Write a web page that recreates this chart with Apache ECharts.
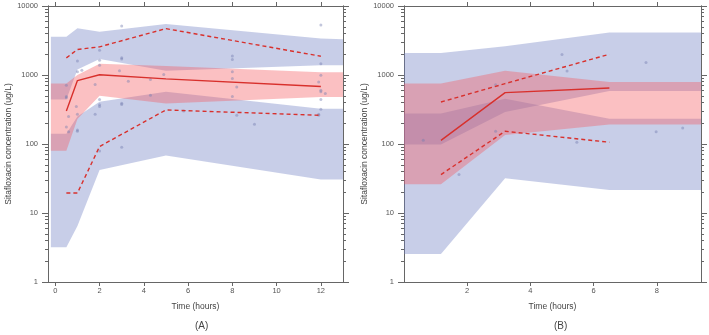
<!DOCTYPE html>
<html>
<head>
<meta charset="utf-8">
<script src="https://cdn.jsdelivr.net/npm/echarts@6/dist/echarts.min.js"></script>
<style>
html, body { margin: 0; padding: 0; background: #fff; }
#main { width: 709px; height: 335px; }
</style>
</head>
<body>
<div id="main"></div>
<script>
// ---------- panel (A) ----------
var bandTimeA = [-0.2, 0.5, 1, 2, 5, 12, 13];
var hiBandUpperA = [3575, 3575, 4740, 4230, 5470, 3390, 3300];   // CI of 95th pct
var loBandUpperA = [440, 440, 1200, 1700, 1150, 1390, 1390];
var hiBandLowerA = [141, 141, 250, 410, 570, 325, 325];          // CI of 5th pct
var loBandLowerA = [3.2, 3.2, 6.5, 42, 68, 30.5, 30.5];
var hiBandMedA = [752, 752, 1000, 1450, 1350, 1100, 1100];       // CI of median
var loBandMedA = [80, 80, 230, 500, 385, 478, 478];

var lineTimeA = [0.5, 1, 2, 5, 12];
var medianA = [300, 830, 1010, 880, 680];
var p95A = [1770, 2340, 2560, 4700, 1870];
var p5A = [19.5, 19.5, 92, 312, 260];

var obsA = [
  [3.0, 5120], [1.0, 1600], [2, 2290], [2, 1640], [2, 1390], [3, 1780], [3, 1700],
  [1.0, 1110], [1.2, 1170], [2.9, 1150], [4.9, 1020], [3.3, 810], [4.3, 860],
  [1.8, 730], [0.5, 710], [0.5, 490], [0.5, 470], [2, 440], [2, 370], [2, 350],
  [3, 390], [3, 375], [4.3, 510], [1.8, 270], [0.95, 350], [0.6, 250], [1.0, 270],
  [0.5, 176], [1.0, 160], [1.0, 153], [3, 90], [2, 79], [0.6, 150],
  [12, 5300], [8, 1880], [8, 1680], [12, 1460], [8, 1110], [8, 890], [8.2, 670],
  [8, 490], [12, 990], [11.9, 790], [12, 600], [12, 570], [12.2, 540], [12, 440],
  [12, 320], [11.9, 270], [11.9, 260], [8.2, 260], [9, 193], [5.8, 300]
];

// ---------- panel (B) ----------
var bandTimeB = [0, 1.17, 3.2, 6.5, 9.4];
var hiBandUpperB = [2090, 2090, 2600, 4140, 4140];
var loBandUpperB = [98, 98, 290, 587, 587];
var hiBandLowerB = [276, 276, 454, 232, 232];
var loBandLowerB = [2.55, 2.55, 32, 21.5, 21.5];
var hiBandMedB = [750, 750, 1150, 794, 794];
var loBandMedB = [26, 26, 135, 192, 192];

var lineTimeB = [1.17, 3.2, 6.5];
var medianB = [113, 556, 649];
var p95B = [406, 750, 2000];
var p5B = [36, 153, 106];

var obsB = [
  [0.61, 113], [2.9, 153], [1.74, 36], [2.9, 725], [5.0, 1980], [5.16, 1140],
  [7.66, 1520], [5.47, 106], [7.98, 150], [8.82, 170]
];

// ticks
var xTicksA = [0, 2, 4, 6, 8, 10, 12];
var xTicksB = [2, 4, 6, 8];
var yMajor = [1, 10, 100, 1000, 10000];
var yMinor = [2, 3, 4, 5, 6, 7, 8, 9, 20, 30, 40, 50, 60, 70, 80, 90,
  200, 300, 400, 500, 600, 700, 800, 900, 2000, 3000, 4000, 5000, 6000, 7000, 8000, 9000];

var blue = 'rgba(110,125,195,0.38)';
var pink = 'rgba(245,90,95,0.38)';
var red = '#d8302c';
var axisCol = '#666';
var font = 'Liberation Sans, Arial, sans-serif';

function zip(t, v) {
  return t.map(function (x, i) { return [x, v[i]]; });
}

function bandSeries(xi, yi, times, lo, hi, color) {
  return {
    type: 'custom',
    xAxisIndex: xi,
    yAxisIndex: yi,
    silent: true,
    data: times.map(function (t, i) { return [t, lo[i], hi[i]]; }),
    encode: { x: 0, y: [1, 2] },
    renderItem: function (params, api) {
      if (params.dataIndex !== 0) return null;
      var pts = [];
      for (var i = 0; i < times.length; i++) pts.push(api.coord([times[i], hi[i]]));
      for (var j = times.length - 1; j >= 0; j--) pts.push(api.coord([times[j], lo[j]]));
      return { type: 'polygon', shape: { points: pts }, style: { fill: color } };
    }
  };
}

function lineSeries(xi, yi, t, v, dashed) {
  return {
    type: 'line', xAxisIndex: xi, yAxisIndex: yi, silent: true,
    data: zip(t, v), symbol: 'none',
    lineStyle: { color: red, width: 1.4, type: dashed ? [4, 3] : 'solid' }
  };
}

function dots(xi, yi, d) {
  return {
    type: 'scatter', xAxisIndex: xi, yAxisIndex: yi, silent: true,
    data: d, symbolSize: 3,
    itemStyle: { color: 'rgba(115,125,175,0.55)' }
  };
}

function xAx(grid, min, max, ticks, pos, hidden) {
  var bottom = pos === 'bottom';
  return {
    gridIndex: grid, type: 'value', min: min, max: max, position: pos, show: !hidden,
    axisLine: { onZero: false, lineStyle: { color: axisCol, width: 1 } },
    axisTick: { customValues: ticks, length: 4, lineStyle: { color: axisCol } },
    axisLabel: { show: bottom, customValues: ticks, fontSize: 7.5, color: '#555', margin: 5, fontFamily: font },
    splitLine: { show: false },
    name: bottom && !hidden ? 'Time (hours)' : '',
    nameLocation: 'middle', nameGap: 20,
    nameTextStyle: { fontSize: 8.5, color: '#444', fontFamily: font }
  };
}

function yAx(grid, pos, minor) {
  var named = pos === 'left' && !minor;
  return {
    gridIndex: grid, type: 'log', logBase: 10, min: 1, max: 10000, position: pos,
    axisLine: { onZero: false, lineStyle: { color: axisCol, width: 1 } },
    axisTick: { customValues: minor ? yMinor : yMajor, length: minor ? 3 : 6, lineStyle: { color: axisCol } },
    axisLabel: {
      show: named, customValues: yMajor, fontSize: 7.5, color: '#555', margin: 10,
      fontFamily: font, formatter: function (v) { return String(v); }
    },
    splitLine: { show: false },
    name: named ? 'Sitafloxacin concentration (ug/L)' : '',
    nameLocation: 'middle', nameGap: 34,
    nameTextStyle: { fontSize: 8.5, color: '#444', fontFamily: font }
  };
}

var myChart = echarts.init(document.getElementById('main'));

var gridA = { left: 48, top: 6, width: 295, height: 276 };
var gridB = { left: 404, top: 6, width: 297, height: 276 };

var option = {
  animation: false,
  backgroundColor: '#fff',
  // grids 2 and 3 sit on top of 0 and 1 and only carry the minor log ticks
  grid: [gridA, gridB, Object.assign({}, gridA), Object.assign({}, gridB)],
  xAxis: [
    xAx(0, -0.33, 13, xTicksA, 'bottom'),
    xAx(0, -0.33, 13, xTicksA, 'top'),
    xAx(1, 0, 9.4, xTicksB, 'bottom'),
    xAx(1, 0, 9.4, xTicksB, 'top'),
    xAx(2, -0.33, 13, xTicksA, 'bottom', true),
    xAx(3, 0, 9.4, xTicksB, 'bottom', true)
  ],
  yAxis: [
    yAx(0, 'left', false),
    yAx(0, 'right', false),
    yAx(1, 'left', false),
    yAx(1, 'right', false),
    yAx(2, 'left', true),
    yAx(2, 'right', true),
    yAx(3, 'left', true),
    yAx(3, 'right', true)
  ],
  graphic: [
    { type: 'text', left: 195, top: 321, style: { text: '(A)', fontSize: 10, fill: '#444', fontFamily: font } },
    { type: 'text', left: 554, top: 321, style: { text: '(B)', fontSize: 10, fill: '#444', fontFamily: font } }
  ],
  series: [
    bandSeries(0, 0, bandTimeA, loBandUpperA, hiBandUpperA, blue),
    bandSeries(0, 0, bandTimeA, loBandLowerA, hiBandLowerA, blue),
    bandSeries(0, 0, bandTimeA, loBandMedA, hiBandMedA, pink),
    dots(0, 0, obsA),
    lineSeries(0, 0, lineTimeA, medianA, false),
    lineSeries(0, 0, lineTimeA, p95A, true),
    lineSeries(0, 0, lineTimeA, p5A, true),

    bandSeries(2, 2, bandTimeB, loBandUpperB, hiBandUpperB, blue),
    bandSeries(2, 2, bandTimeB, loBandLowerB, hiBandLowerB, blue),
    bandSeries(2, 2, bandTimeB, loBandMedB, hiBandMedB, pink),
    dots(2, 2, obsB),
    lineSeries(2, 2, lineTimeB, medianB, false),
    lineSeries(2, 2, lineTimeB, p95B, true),
    lineSeries(2, 2, lineTimeB, p5B, true)
  ]
};

myChart.setOption(option);
</script>
</body>
</html>
